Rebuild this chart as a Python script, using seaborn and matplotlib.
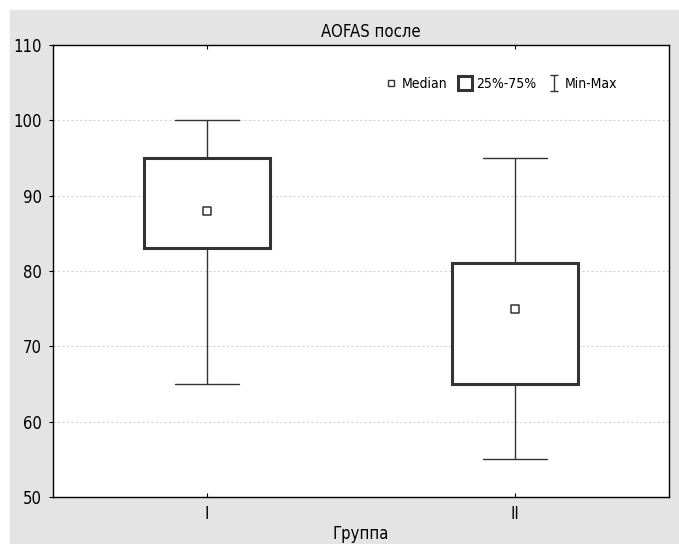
import os
import numpy as np
import pandas as pd
import matplotlib
matplotlib.use('Agg')
import matplotlib.pyplot as plt
from matplotlib import font_manager
from matplotlib.lines import Line2D
from matplotlib.patches import Rectangle
from matplotlib.path import Path
import seaborn as sns

# min, Q1, median, Q3, max for each group
groups = ['I', 'II']
group_i = [65, 83, 88, 95, 100]
group_ii = [55, 65, 75, 81, 95]
y_ticks = [50, 60, 70, 80, 90, 100, 110]

df = pd.DataFrame({
    'Группа': ['I'] * len(group_i) + ['II'] * len(group_ii),
    'AOFAS': group_i + group_ii,
})
medians = [np.median(group_i), np.median(group_ii)]


def pick_narrow_font():
    """look for any installed regular condensed/narrow face, the original uses one"""
    best = None
    for f in font_manager.fontManager.ttflist:
        fn = os.path.basename(f.fname).lower()
        if not ('condensed' in fn or 'narrow' in fn):
            continue
        if 'semi' in fn or 'extra' in fn or 'ultra' in fn:
            continue
        if f.style != 'normal' or f.weight not in (400, 'normal', 'regular', 'book'):
            continue
        best = f
        if 'liberation' in fn or 'dejavu' in fn:
            break
    return best


sns.set_style('white')
narrow = pick_narrow_font()
if narrow is not None:
    plt.rcParams['font.family'] = [narrow.name, 'DejaVu Sans']
    plt.rcParams['font.stretch'] = narrow.stretch
    base = 12
else:
    plt.rcParams['font.family'] = ['DejaVu Sans']
    plt.rcParams['font.stretch'] = 'condensed'
    base = 11
for key in ['text.color', 'axes.labelcolor', 'xtick.color', 'ytick.color']:
    plt.rcParams[key] = 'black'

fig = plt.figure(figsize=(6.79, 5.44), dpi=100, facecolor='white')
# grey panel with thin white border on the top and left
fig.patches.append(Rectangle((10 / 679, 0), 1, 1 - 10 / 544,
                             transform=fig.transFigure, color='#e4e4e4', zorder=-10))
ax = fig.add_axes([53 / 679, 1 - 497 / 544, 616 / 679, 452 / 544])

sns.boxplot(data=df, x='Группа', y='AOFAS', ax=ax, whis=(0, 100), width=0.41,
            color='white', linecolor='#333333', linewidth=1,
            boxprops=dict(linewidth=2.2),
            medianprops=dict(visible=False))
sns.scatterplot(x=groups, y=medians, ax=ax, marker='s', s=28,
                facecolor='white', edgecolor='#333333', linewidth=1.1, zorder=5)

ax.set_xlim(-0.5, 1.5)
ax.set_ylim(50, 110)
ax.set_yticks(y_ticks)
ax.yaxis.grid(True, linestyle=(0, (2, 2)), color='#d4d4d4', linewidth=0.8)
ax.set_axisbelow(True)
for sp in ax.spines.values():
    sp.set_visible(True)
    sp.set_color('black')
    sp.set_linewidth(1)
ax.tick_params(axis='x', direction='in', top=True, bottom=True, length=3, pad=6,
               labelsize=base)
ax.tick_params(axis='y', direction='out', left=True, length=3, pad=5, labelsize=base)
ax.set_title('AOFAS после', fontsize=base, pad=6, x=0.516)
ax.set_xlabel('Группа', fontsize=base, labelpad=1)
ax.set_ylabel('')

# legend: median square, box, min-max I-beam
ibeam = Path([(-0.5, 1), (0.5, 1), (0, 1), (0, -1), (-0.5, -1), (0.5, -1)],
             [Path.MOVETO, Path.LINETO, Path.MOVETO, Path.LINETO, Path.MOVETO, Path.LINETO])
handles = [
    Line2D([], [], marker='s', linestyle='none', markersize=5,
           markerfacecolor='white', markeredgecolor='#333333', markeredgewidth=1),
    Line2D([], [], marker='s', linestyle='none', markersize=10,
           markerfacecolor='white', markeredgecolor='#333333', markeredgewidth=2.2),
    Line2D([], [], marker=ibeam, linestyle='none', markersize=12,
           markerfacecolor='none', markeredgecolor='#333333', markeredgewidth=1),
]
ax.legend(handles, ['Median', '25%-75%', 'Min-Max'], ncol=3, frameon=False,
          loc='center left', bbox_to_anchor=(0.54, 0.913), fontsize=base - 2,
          handlelength=0.8, handletextpad=0.35, columnspacing=0.9,
          borderpad=0, borderaxespad=0)

plt.savefig('out.png', dpi=100, facecolor=fig.get_facecolor())
plt.close()
